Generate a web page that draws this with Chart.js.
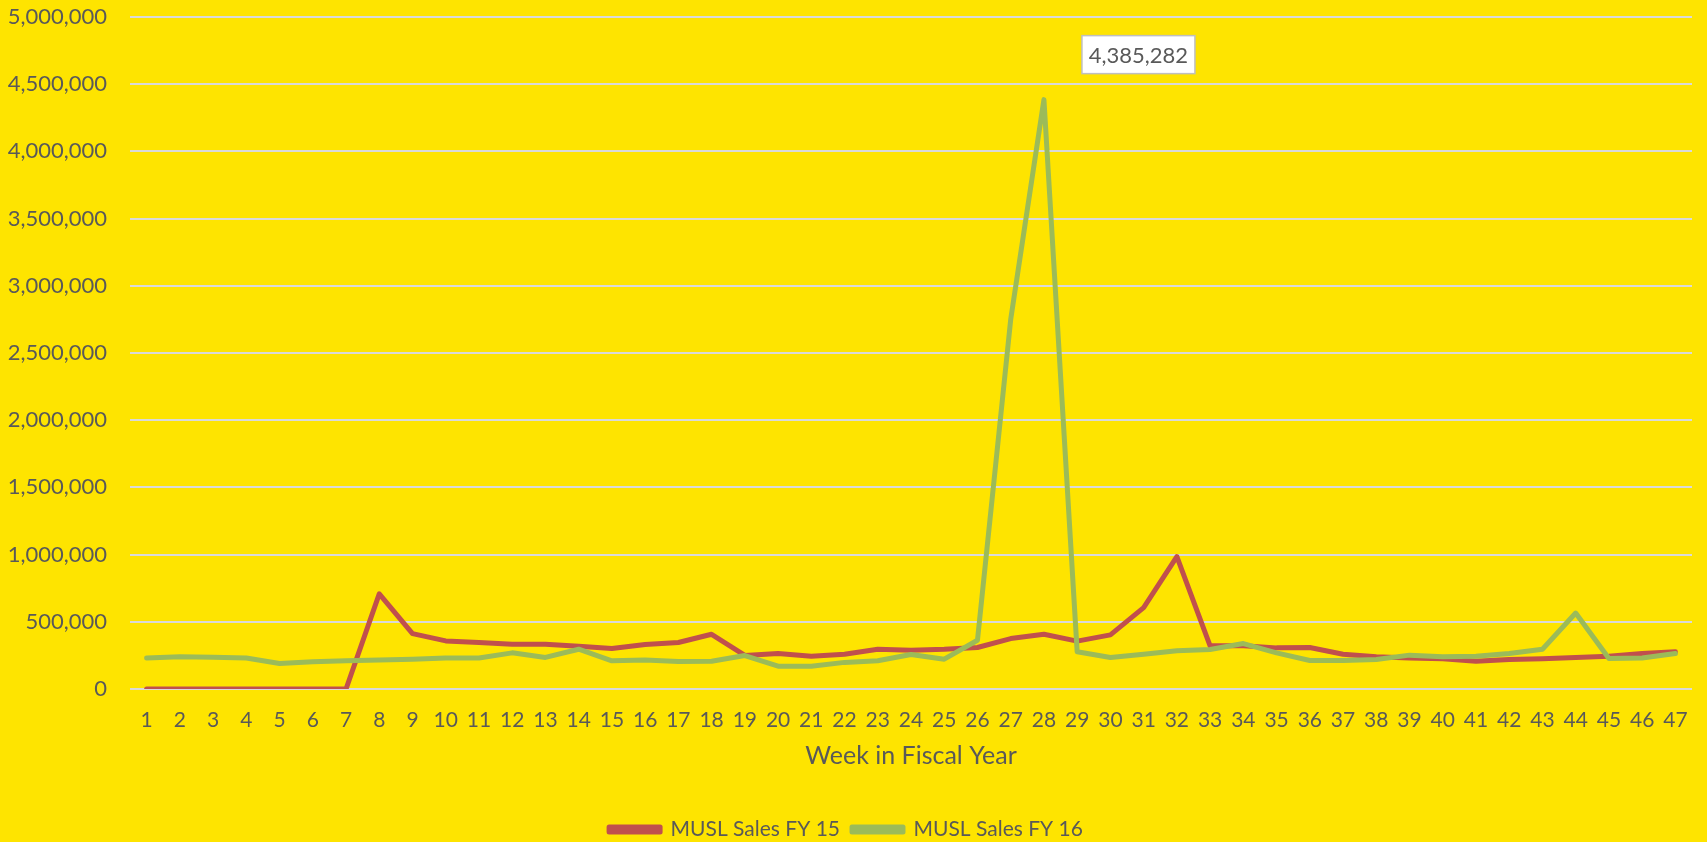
<!DOCTYPE html>
<html>
<head>
<meta charset="utf-8">
<script src="https://cdn.jsdelivr.net/npm/chart.js@4.4.1/dist/chart.umd.min.js"></script>
<style>
  html, body { margin: 0; padding: 0; background: #FEE400; }
  #wrap { width: 1707px; height: 842px; position: relative; }
</style>
</head>
<body>
<div id="wrap"><canvas id="chart" width="1707" height="842"></canvas></div>
<script>
// weeks 1..47
const weeks = Array.from({ length: 47 }, (_, i) => String(i + 1));

// MUSL Sales FY 15
const salesFY15 = [
  0, 0, 0, 0, 0, 0, 0, 708000, 412000, 358000,
  346000, 333000, 333000, 318000, 301000, 331000, 346000, 407000, 250000, 264000,
  244000, 259000, 296000, 289000, 296000, 309000, 375000, 407000, 356000, 403000,
  605000, 985000, 321000, 321000, 306000, 309000, 259000, 240000, 230000, 225000,
  207000, 220000, 225000, 235000, 244000, 264000, 277000
];

// MUSL Sales FY 16
const salesFY16 = [
  230000, 240000, 237000, 230000, 190000, 202000, 210000, 215000, 222000, 230000,
  230000, 269000, 235000, 296000, 210000, 215000, 205000, 207000, 249000, 170000,
  170000, 198000, 210000, 257000, 222000, 363000, 2750000, 4385282, 277000, 235000,
  259000, 284000, 294000, 338000, 269000, 212000, 212000, 220000, 252000, 240000,
  244000, 264000, 296000, 565000, 227000, 230000, 264000
];

const seriesNames = ['MUSL Sales FY 15', 'MUSL Sales FY 16'];
const yTicks = { min: 0, max: 5000000, step: 500000 };
const peakIndex = 27; // week 28 carries the data label

const FONT = 'Lato, "Noto Sans", sans-serif';
const TEXT = '#595959';

// white label box for the FY16 peak
const peakLabel = {
  id: 'peakLabel',
  afterDatasetsDraw(chart) {
    const pt = chart.getDatasetMeta(1).data[peakIndex];
    const value = salesFY16[peakIndex];
    const ctx = chart.ctx;
    const txt = value.toLocaleString('en-US');
    const w = 113, h = 38;
    const x = pt.x + 38, y = pt.y - 64;
    ctx.save();
    ctx.fillStyle = '#ffffff';
    ctx.strokeStyle = '#BFBFBF';
    ctx.lineWidth = 1.5;
    ctx.fillRect(x, y, w, h);
    ctx.strokeRect(x, y, w, h);
    ctx.fillStyle = TEXT;
    ctx.font = '22px ' + FONT;
    ctx.textAlign = 'center';
    ctx.textBaseline = 'middle';
    ctx.fillText(txt, x + w / 2, y + h / 2 + 1);
    ctx.restore();
  }
};

new Chart(document.getElementById('chart'), {
  type: 'line',
  data: {
    labels: weeks,
    datasets: [
      {
        label: seriesNames[0],
        data: salesFY15,
        borderColor: '#C0504D',
        backgroundColor: '#C0504D',
        borderWidth: 5,
        order: 2
      },
      {
        label: seriesNames[1],
        data: salesFY16,
        borderColor: '#9BBB59',
        backgroundColor: '#9BBB59',
        borderWidth: 5,
        order: 1
      }
    ]
  },
  options: {
    responsive: false,
    animation: false,
    layout: { padding: { top: 17, right: 15, bottom: -8, left: 0 } },
    elements: {
      point: { radius: 0, hoverRadius: 0 },
      line: { tension: 0, borderCapStyle: 'round', borderJoinStyle: 'round' }
    },
    plugins: {
      tooltip: { enabled: false },
      legend: {
        position: 'bottom',
        labels: {
          color: TEXT,
          font: { family: FONT, size: 21 },
          boxWidth: 51,
          boxHeight: 5,
          padding: 12,
          sort: (a, b) => a.datasetIndex - b.datasetIndex
        }
      }
    },
    scales: {
      x: {
        offset: true,
        grid: { display: false },
        border: { display: false },
        ticks: {
          color: TEXT,
          font: { family: FONT, size: 21 },
          padding: 11,
          maxRotation: 0,
          autoSkip: false
        },
        title: {
          display: true,
          text: 'Week in Fiscal Year',
          color: TEXT,
          font: { family: FONT, size: 25 },
          padding: { top: 4, bottom: 36 }
        },
        afterFit(scale) { scale.height = 118; }
      },
      y: {
        min: yTicks.min,
        max: yTicks.max,
        border: { display: false },
        grid: {
          color: '#D9D9D9',
          lineWidth: 2,
          drawTicks: true,
          tickLength: 23,
          tickColor: 'rgba(0,0,0,0)'
        },
        ticks: {
          stepSize: yTicks.step,
          color: TEXT,
          font: { family: FONT, size: 22 },
          padding: 0,
          callback: v => Number(v).toLocaleString('en-US')
        },
        afterFit(scale) { scale.width = 130; }
      }
    }
  },
  plugins: [peakLabel]
});
</script>
</body>
</html>
